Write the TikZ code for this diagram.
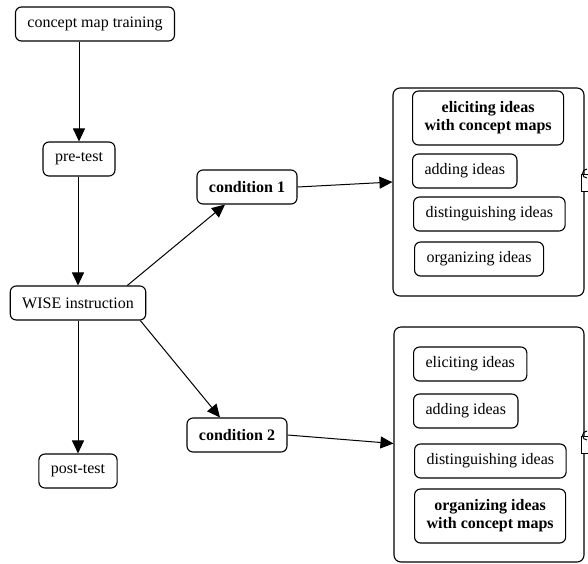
\documentclass[tikz,border=0pt]{standalone}
\usepackage{fontspec}
\setmainfont{Liberation Serif}
\usetikzlibrary{arrows.meta}

\tikzset{
	box/.style={draw, rounded corners=6pt, line width=1.1pt, inner xsep=12pt, minimum height=34pt, align=center, font=\fontsize{16}{18}\selectfont},
	boldbox/.style={box, font=\fontsize{16}{18}\selectfont\bfseries},
	panel/.style={draw, rounded corners=7pt, line width=1.1pt},
	arr/.style={-{Triangle[length=13pt,width=12pt]}, line width=1pt}
}

\begin{document}
\begin{tikzpicture}[x=1pt, y=-1pt]
				\useasboundingbox (0,0) rectangle (588,563);
				\begin{scope}
					% left column
					\node[box] (training) at (95,24) {concept map training};
					\node[box] (pretest) at (79,159) {pre-test};
					\node[box] (wise) at (78,303) {WISE instruction};
					\node[box] (posttest) at (78,471) {post-test};

					% conditions
					\node[boldbox] (cond1) at (247,187) {condition 1};
					\node[boldbox] (cond2) at (237,435) {condition 2};

					% panel of condition 1
					\node[panel, minimum width=191pt, minimum height=208pt] (panel1) at (488.5,192) {};
					\node[boldbox, anchor=west, minimum height=54pt] (elicit1) at (412,118) {eliciting ideas\\with concept maps};
					\node[box, anchor=west] (add1) at (412,171) {adding ideas};
					\node[box, anchor=west] (dist1) at (413,214) {distinguishing ideas};
					\node[box, anchor=west] (org1) at (414,259) {organizing ideas};

					% panel of condition 2
					\node[panel, minimum width=190pt, minimum height=235pt] (panel2) at (489,444.5) {};
					\node[box, anchor=west] (elicit2) at (413,364) {eliciting ideas};
					\node[box, anchor=west] (add2) at (413,411) {adding ideas};
					\node[box, anchor=west] (dist2) at (414,461) {distinguishing ideas};
					\node[boldbox, anchor=west, minimum height=54pt] (org2) at (414,516) {organizing ideas\\with concept maps};

					% small handles on the panel edges
					\draw[line width=0.8pt, fill=white] (581,174) rectangle (592,191);
					\draw[line width=1pt] (587,178) arc (90:270:4.5);
					\draw[line width=0.8pt, fill=white] (581,436) rectangle (592,453);
					\draw[line width=1pt] (587,440) arc (90:270:4.5);

					\draw[arr] (training.south -| pretest.north) -- (pretest.north); % training to pre-test
					\draw[arr] (pretest.south -| wise.north) -- (wise.north); % pre-test to instruction
					\draw[arr] (wise.south) -- (posttest.north); % instruction to post-test

					\draw[arr] ([xshift=-19pt]wise.north east) -- ([xshift=-22pt]cond1.south); % instruction to condition 1
					\draw[arr] ([xshift=-6pt]wise.south east) -- ([xshift=-17pt]cond2.north); % instruction to condition 2

					\draw[arr] (cond1.east) -- ([yshift=10pt]panel1.west); % condition 1 to panel
					\draw[arr] (cond2.east) -- ([yshift=1pt]panel2.west); % condition 2 to panel
				\end{scope}
			\end{tikzpicture}
\end{document}
